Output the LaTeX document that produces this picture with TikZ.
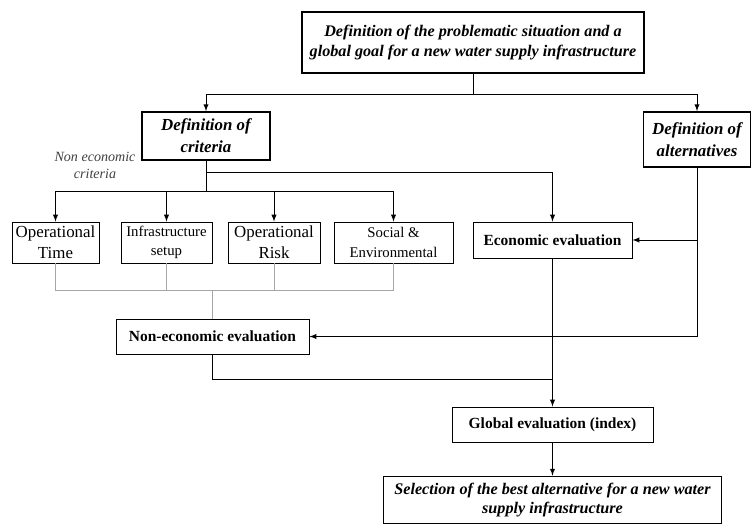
\documentclass[tikz,border=0pt]{standalone}
\usepackage{fontspec}
\setmainfont{Liberation Serif}
\usepackage{tikz}
\usepackage{xcolor}
\usetikzlibrary{arrows, positioning, calc}
\tikzset{
    >=latex, % filled arrow heads
}
\tikzstyle{mainbox} = [rectangle, very thick, draw=black, align=center, font=\fontsize{11.5}{14}\selectfont\bfseries\itshape, inner sep=2pt]
\tikzstyle{critbox} = [rectangle, draw=black, semithick, align=center, font=\fontsize{12}{15}\selectfont, inner sep=1pt, minimum height=1.025cm]
\tikzstyle{evalbox} = [rectangle, draw=black, semithick, align=center, font=\fontsize{11}{13}\selectfont\bfseries, minimum height=0.875cm]
\tikzstyle{arrow} = [line width=0.7pt, ->, >=latex]
\tikzstyle{line} = [line width=0.7pt]
\tikzstyle{greyline} = [semithick, gray!70]

\begin{document}
\begin{tikzpicture}[x=0.025cm, y=-0.025cm]
        \useasboundingbox (0,0) rectangle (752,525);

        % Nodes
        \node (goal) [mainbox, minimum width=8.55cm, minimum height=1.525cm] at (473,42.5) {Definition of the problematic situation and a\\global goal for a new water supply infrastructure};
        \node (crit) [mainbox, font=\fontsize{12}{15.5}\selectfont\bfseries\itshape, minimum width=3.2cm, minimum height=1.2cm] at (206,136) {Definition of\\criteria};
        \node (alt) [mainbox, font=\fontsize{12}{15.5}\selectfont\bfseries\itshape, minimum width=2.675cm, minimum height=1.375cm] at (697,139.5) {Definition of\\alternatives};
        \node (noneco) [font=\fontsize{10}{12}\selectfont\itshape, text=black!75, align=center] at (95,165) {Non economic\\criteria};

        \node (optime) [critbox, minimum width=2.175cm] at (55.5,242.5) {Operational\\Time};
        \node (infra) [critbox, minimum width=2.275cm, font=\fontsize{10.5}{14}\selectfont] at (166.5,242.5) {Infrastructure\\setup};
        \node (oprisk) [critbox, minimum width=2.3cm] at (274,242.5) {Operational\\Risk};
        \node (social) [critbox, minimum width=2.975cm, font=\fontsize{10.5}{14.5}\selectfont] at (393.5,242.5) {Social \&\\Environmental};

        \node (econ) [evalbox, minimum width=3.975cm, minimum height=0.9cm] at (552.5,240) {Economic evaluation};
        \node (nonecon) [evalbox, minimum width=4.825cm] at (212.5,336.5) {Non-economic evaluation};
        \node (global) [evalbox, minimum width=5.025cm] at (552.5,424.5) {Global evaluation (index)};
        \node (select) [mainbox, minimum width=8.45cm, minimum height=1.175cm] at (552.5,500) {Selection of the best alternative for a new water\\supply infrastructure};

        % Junctions
        \coordinate (split) at (473,94);
        \coordinate (ecobranch) at (206,172);
        \coordinate (kids) at (206,191);
        \coordinate (join) at (212.5,290);
        \coordinate (merge) at (552.5,379);

        % Arrows
        \draw [line] (goal) -- (split);
        \draw [arrow] (split) -| (crit.north);
        \draw [arrow] (split) -| (alt.north);
        \draw [line] (crit) -- (kids);
        \draw [arrow] (ecobranch) -| (econ.north);
        \foreach \kid in {optime, infra, oprisk, social}
            \draw [arrow] (kids) -| (\kid.north);
        \foreach \kid in {optime, infra, oprisk, social}
            \draw [greyline] (\kid.south) |- (join);
        \draw [greyline] (join) -- (nonecon.north);
        \draw [arrow] (alt.south) |- (nonecon.east);
        \draw [arrow] (alt.south |- econ.east) -- (econ.east);
        \draw [line] (nonecon.south) |- (merge);
        \draw [arrow] (econ.south) -- (global.north);
        \draw [arrow] (global.south) -- (select.north);

\end{tikzpicture}
\end{document}
